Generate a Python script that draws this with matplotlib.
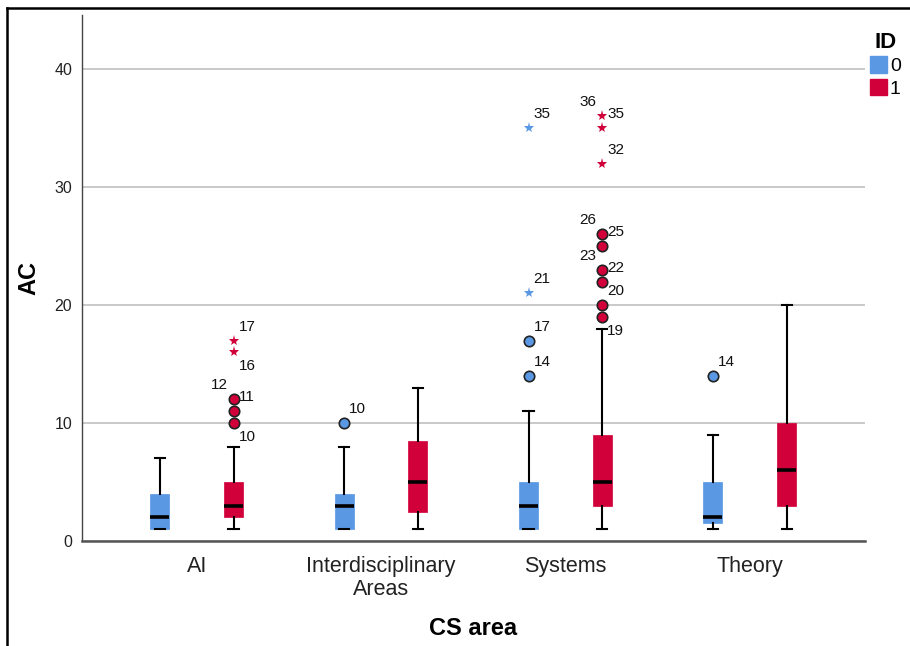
import numpy as np
import matplotlib
matplotlib.use("Agg")
import matplotlib.pyplot as plt
from matplotlib.patches import Patch
from matplotlib.lines import Line2D

plt.rcParams['font.family'] = ['Liberation Sans', 'DejaVu Sans']

# ---- data ----
categories = ["AI", "Interdisciplinary\nAreas", "Systems", "Theory"]
groups = ["0", "1"]

# ID = 0
whislo_0 = [1, 1, 1, 1]
q1_0 = [1, 1, 1, 1.5]
med_0 = [2, 3, 3, 2]
q3_0 = [4, 4, 5, 5]
whishi_0 = [7, 8, 11, 9]
outliers_0 = [[], [10], [14, 17], [14]]
extremes_0 = [[], [], [21, 35], []]

# ID = 1
whislo_1 = [1, 1, 1, 1]
q1_1 = [2, 2.5, 3, 3]
med_1 = [3, 5, 5, 6]
q3_1 = [5, 8.5, 9, 10]
whishi_1 = [8, 13, 18, 20]
outliers_1 = [[10, 11, 12], [], [19, 20, 22, 23, 25, 26], []]
extremes_1 = [[16, 17], [], [32, 35, 36], []]

# case labels shown next to the outlying points
case_labels_0 = [[], ["10"], ["14", "17", "21", "35"], ["14"]]
case_labels_1 = [["10", "11", "12", "16", "17"], [],
                 ["19", "20", "22", "23", "25", "26", "32", "35", "36"], []]

# ---- layout / style ----
colors = ["#5A98E3", "#D2003A"]
offsets = [-0.2, 0.2]
box_w = 0.103
# label placement: right/above is the default
left_labels = {("1", 0, "12"), ("1", 2, "26"), ("1", 2, "23"), ("1", 2, "36")}
below_labels = {("1", 0, "10"), ("1", 0, "16"), ("1", 2, "19")}

fig = plt.figure(figsize=(9.1, 6.46), dpi=100)
ax = fig.add_axes([82 / 910, 1 - 541 / 646, (865 - 82) / 910, (541 - 15) / 646])

series = [
    (whislo_0, q1_0, med_0, q3_0, whishi_0, outliers_0, extremes_0, case_labels_0),
    (whislo_1, q1_1, med_1, q3_1, whishi_1, outliers_1, extremes_1, case_labels_1),
]

x = np.arange(len(categories))
for g, (lo, q1, md, q3, hi, outs, exts, labs) in enumerate(series):
    stats = []
    for i in range(len(categories)):
        stats.append(dict(whislo=lo[i], q1=q1[i], med=md[i], q3=q3[i], whishi=hi[i], fliers=[]))
    ax.bxp(stats, positions=x + offsets[g], widths=box_w, patch_artist=True,
           showfliers=False, capwidths=0.055,
           boxprops=dict(facecolor=colors[g], edgecolor=colors[g], linewidth=0.5),
           medianprops=dict(color="black", linewidth=2.6, solid_capstyle="butt"),
           whiskerprops=dict(color="black", linewidth=1.5),
           capprops=dict(color="black", linewidth=1.5),
           zorder=3)
    for i in range(len(categories)):
        px = x[i] + offsets[g]
        if outs[i]:
            ax.plot([px] * len(outs[i]), outs[i], "o", ms=7.5, mfc=colors[g],
                    mec="#222222", mew=1.2, zorder=4, clip_on=False)
        if exts[i]:
            ax.plot([px] * len(exts[i]), exts[i], "*", ms=8, color=colors[g],
                    mew=0, zorder=4, clip_on=False)
        for lab in labs[i]:
            v = float(lab)
            key = (groups[g], i, lab)
            dy = -14 if key in below_labels else 14
            if key in left_labels:
                dx, ha = -6, "right"
            else:
                dx, ha = 5, "left"
            ax.annotate(lab, (px, v), xytext=(dx, dy), textcoords="offset pixels",
                        ha=ha, va="center", fontsize=11, color="#111111", zorder=5)

ax.set_xlim(-0.622, 3.625)
ax.set_ylim(0, 44.6)
ax.set_xticks(x)
ax.set_xticklabels(categories, fontsize=15.5, color="#222222", linespacing=1.1)
ax.set_yticks([0, 10, 20, 30, 40])
ax.tick_params(axis="both", length=0)
ax.tick_params(axis="y", pad=7, labelsize=11.5, labelcolor="#222222")
ax.tick_params(axis="x", pad=11)
ax.grid(axis="y", color="#BBBBBB", linewidth=1.1, zorder=0)
ax.set_axisbelow(True)
for s in ["top", "right"]:
    ax.spines[s].set_visible(False)
ax.spines["left"].set_color("#444444")
ax.spines["left"].set_linewidth(1.0)
ax.spines["bottom"].set_color("#555555")
ax.spines["bottom"].set_linewidth(1.8)

ax.set_ylabel("AC", fontsize=17, fontweight="bold", labelpad=10)
ax.set_xlabel("CS area", fontsize=17, fontweight="bold", labelpad=12)

handles = [Patch(facecolor=c, edgecolor=c) for c in colors]
fig.legend(handles, groups, title="ID", loc="upper left",
           bbox_to_anchor=(852 / 910, 1 - 14 / 646), frameon=False,
           handlelength=0.9, handleheight=0.9, handletextpad=0.15,
           labelspacing=0.2, fontsize=14,
           title_fontproperties={"weight": "bold", "size": 16})

# outer frame of the exported chart
fig.add_artist(Line2D([7 / 910, 7 / 910], [0, 1 - 8 / 646], color="black", lw=1.8))
fig.add_artist(Line2D([7 / 910, 1], [1 - 8 / 646, 1 - 8 / 646], color="black", lw=1.8))

fig.savefig("out.png", dpi=100)
